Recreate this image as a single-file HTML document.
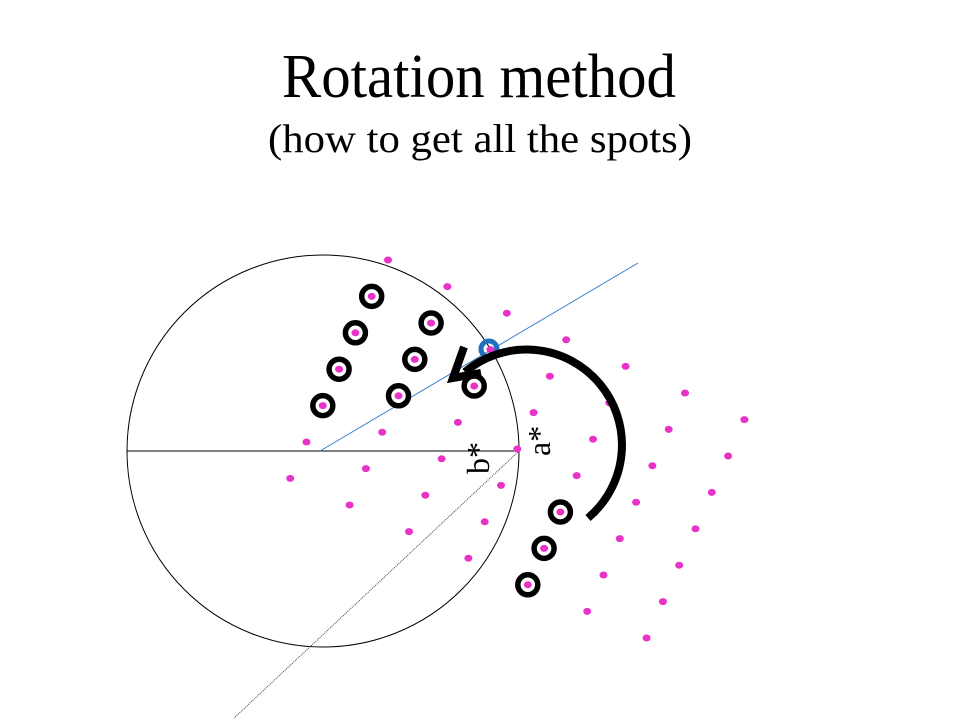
<!DOCTYPE html>
<html><head><style>html,body{margin:0;padding:0;background:#fff}</style></head>
<body>
<svg width="960" height="720" xmlns="http://www.w3.org/2000/svg" font-family="Liberation Serif, serif">
<rect width="960" height="720" fill="#fff"/>
<text x="479" y="97" font-size="62" text-anchor="middle" textLength="394" lengthAdjust="spacingAndGlyphs">Rotation method</text>
<text x="480" y="152" font-size="40" text-anchor="middle" textLength="424" lengthAdjust="spacingAndGlyphs">(how to get all the spots)</text>
<circle cx="323" cy="451" r="196" fill="none" stroke="#000" stroke-width="1"/>
<line x1="127" y1="451" x2="519" y2="451" stroke="#000" stroke-width="1"/>
<line x1="320" y1="451" x2="638" y2="263" stroke="#3a7fd0" stroke-width="1"/>
<line x1="519" y1="451" x2="234" y2="718" stroke="#444" stroke-width="1" stroke-dasharray="1,1"/>
<g fill="#e832c8">
<ellipse cx="388" cy="260" rx="4" ry="3.5"/><ellipse cx="371.7" cy="296.4" rx="4" ry="3.5"/><ellipse cx="355.4" cy="332.8" rx="4" ry="3.5"/><ellipse cx="339.1" cy="369.2" rx="4" ry="3.5"/><ellipse cx="322.8" cy="405.6" rx="4" ry="3.5"/><ellipse cx="306.5" cy="442" rx="4" ry="3.5"/><ellipse cx="290.2" cy="478.4" rx="4" ry="3.5"/>
<ellipse cx="447.4" cy="286.6" rx="4" ry="3.5"/><ellipse cx="431.1" cy="323" rx="4" ry="3.5"/><ellipse cx="414.8" cy="359.4" rx="4" ry="3.5"/><ellipse cx="398.5" cy="395.8" rx="4" ry="3.5"/><ellipse cx="382.2" cy="432.2" rx="4" ry="3.5"/><ellipse cx="365.9" cy="468.6" rx="4" ry="3.5"/><ellipse cx="349.6" cy="505" rx="4" ry="3.5"/>
<ellipse cx="506.8" cy="313.2" rx="4" ry="3.5"/><ellipse cx="490.5" cy="349.6" rx="4" ry="3.5"/><ellipse cx="474.2" cy="386" rx="4" ry="3.5"/><ellipse cx="457.9" cy="422.4" rx="4" ry="3.5"/><ellipse cx="441.6" cy="458.8" rx="4" ry="3.5"/><ellipse cx="425.3" cy="495.2" rx="4" ry="3.5"/><ellipse cx="409" cy="531.6" rx="4" ry="3.5"/>
<ellipse cx="566.2" cy="339.8" rx="4" ry="3.5"/><ellipse cx="549.9" cy="376.2" rx="4" ry="3.5"/><ellipse cx="533.6" cy="412.6" rx="4" ry="3.5"/><ellipse cx="517.3" cy="449" rx="4" ry="3.5"/><ellipse cx="501" cy="485.4" rx="4" ry="3.5"/><ellipse cx="484.7" cy="521.8" rx="4" ry="3.5"/><ellipse cx="468.4" cy="558.2" rx="4" ry="3.5"/>
<ellipse cx="625.6" cy="366.4" rx="4" ry="3.5"/><ellipse cx="609.3" cy="402.8" rx="4" ry="3.5"/><ellipse cx="593" cy="439.2" rx="4" ry="3.5"/><ellipse cx="576.7" cy="475.6" rx="4" ry="3.5"/><ellipse cx="560.4" cy="512" rx="4" ry="3.5"/><ellipse cx="544.1" cy="548.4" rx="4" ry="3.5"/><ellipse cx="527.8" cy="584.8" rx="4" ry="3.5"/>
<ellipse cx="685" cy="393" rx="4" ry="3.5"/><ellipse cx="668.7" cy="429.4" rx="4" ry="3.5"/><ellipse cx="652.4" cy="465.8" rx="4" ry="3.5"/><ellipse cx="636.1" cy="502.2" rx="4" ry="3.5"/><ellipse cx="619.8" cy="538.6" rx="4" ry="3.5"/><ellipse cx="603.5" cy="575" rx="4" ry="3.5"/><ellipse cx="587.2" cy="611.4" rx="4" ry="3.5"/>
<ellipse cx="744.4" cy="419.6" rx="4" ry="3.5"/><ellipse cx="728.1" cy="456" rx="4" ry="3.5"/><ellipse cx="711.8" cy="492.4" rx="4" ry="3.5"/><ellipse cx="695.5" cy="528.8" rx="4" ry="3.5"/><ellipse cx="679.2" cy="565.2" rx="4" ry="3.5"/><ellipse cx="662.9" cy="601.6" rx="4" ry="3.5"/><ellipse cx="646.6" cy="638" rx="4" ry="3.5"/>
</g>
<g fill="none" stroke="#000" stroke-width="5.5">
<circle cx="371.7" cy="296.4" r="10"/><circle cx="355.4" cy="332.8" r="10"/><circle cx="339.1" cy="369.2" r="10"/><circle cx="322.8" cy="405.6" r="10"/>
<circle cx="431.1" cy="323" r="10"/><circle cx="414.8" cy="359.4" r="10"/><circle cx="398.5" cy="395.8" r="10"/>
<circle cx="474.2" cy="386" r="10"/>
<circle cx="560.4" cy="512" r="10"/><circle cx="544.1" cy="548.4" r="10"/><circle cx="527.8" cy="584.8" r="10"/>
</g>
<circle cx="489" cy="349" r="8" fill="none" stroke="#1f6fc0" stroke-width="5"/>
<path d="M588,518 A93,93 0 1 0 465,372" fill="none" stroke="#000" stroke-width="8"/>
<polyline points="464,347 453,378 481,373" fill="none" stroke="#000" stroke-width="8" stroke-linejoin="miter"/>
<text font-size="32" transform="translate(489,474) rotate(-90)">b*</text>
<text font-size="32" transform="translate(550,456) rotate(-90)">a*</text>
</svg>
</body></html>
